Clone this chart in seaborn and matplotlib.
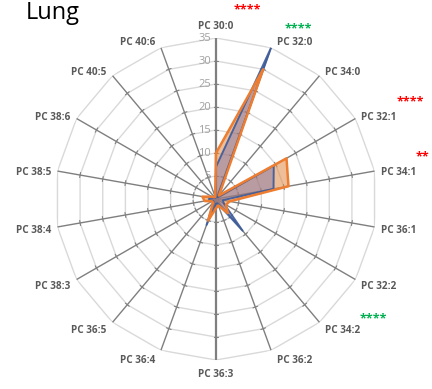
import numpy as np
import pandas as pd
import matplotlib
matplotlib.use("Agg")
import matplotlib.pyplot as plt
import seaborn as sns

categories = ["PC 30:0", "PC 32:0", "PC 34:0", "PC 32:1", "PC 34:1", "PC 36:1",
              "PC 32:2", "PC 34:2", "PC 36:2", "PC 36:3", "PC 36:4", "PC 36:5",
              "PC 38:3", "PC 38:4", "PC 38:5", "PC 38:6", "PC 40:5", "PC 40:6"]
orange_vals = [10, 30, 1, 17.7, 16, 3, 2.5, 4, 1.5, 2, 5, 1, 1, 2.5, 3, 1, 0.5, 0.5]
blue_vals = [7, 35, 0.5, 14.5, 12.7, 1.5, 2, 9, 1, 1, 6, 0.8, 0.8, 1.5, 1.5, 0.5, 0.3, 0.3]
radial_ticks = [5, 10, 15, 20, 25, 30, 35]
rmax = 35

sns.set_theme(style="white")
plt.rcParams['font.family'] = ['Open Sans', 'DejaVu Sans']

fig = plt.figure(figsize=(4.32, 3.89), dpi=100)
ax = fig.add_axes([0.1273, 0.0745, 0.7454, 0.8278], projection='polar')
ax.set_theta_zero_location('N')
ax.set_theta_direction(-1)
ax.set_ylim(0, rmax)
ax.grid(False)
ax.spines['polar'].set_visible(False)
ax.patch.set_alpha(0)

n = len(categories)
angles = np.arange(n) * 2 * np.pi / n
closed_angles = np.append(angles, angles[0])

# polygon grid
for r in radial_ticks:
    ax.plot(closed_angles, [r] * (n + 1), color='#D9D9D9', lw=1.0, zorder=1)
# spokes
for i, a in enumerate(angles):
    col = '#7F7F7F'
    lw = 1.6 if i in (0, n // 2) else 1.0
    ax.plot([a, a], [0, rmax], color=col, lw=lw, zorder=2)
    for r in radial_ticks[:-1]:
        d = 2.5 / (r * 4.6)
        ax.plot([a - d, a + d], [r, r], color=col, lw=0.8, zorder=2)

ov = np.append(orange_vals, orange_vals[0])
bv = np.append(blue_vals, blue_vals[0])
df = pd.DataFrame({
    'angle': np.concatenate([closed_angles, closed_angles]),
    'value': np.concatenate([ov, bv]),
    'series': ['orange'] * (n + 1) + ['blue'] * (n + 1),
})

ax.fill(closed_angles, ov, color='#E08A45', alpha=0.55, lw=0, zorder=3)
ax.fill(closed_angles, bv, color='#6A6AAE', alpha=0.4, lw=0, zorder=4)
sns.lineplot(data=df[df.series == 'blue'], x='angle', y='value', sort=False,
             estimator=None, color='#3A5A9A', lw=1.4, alpha=0.9, ax=ax, zorder=5)
sns.lineplot(data=df[df.series == 'orange'], x='angle', y='value', sort=False,
             estimator=None, color='#ED7D31', lw=1.8, ax=ax, zorder=6)
ax.set_xlabel('')
ax.set_ylabel('')
ax.set_xticks([])
ax.set_yticks([])
ax.set_ylim(0, rmax)

# radial value labels
for r in radial_ticks:
    ax.annotate(str(r), xy=(0, r), xytext=(-5, 0), textcoords='offset pixels',
                ha='right', va='center', fontsize=8, color='#A0A0A0', zorder=7)

# category labels
for a, lab in zip(angles, categories):
    s, c = np.sin(a), np.cos(a)
    if abs(s) < 0.1:
        ha = 'center'
        dx, dy = 0, 13 * np.sign(c) - 1
    else:
        ha = 'left' if s > 0 else 'right'
        dx = 6 * np.sign(s)
        dy = 8 * c - 2.5
    ax.annotate(lab, xy=(a, rmax), xytext=(dx, dy), textcoords='offset pixels',
                ha=ha, va='center', fontsize=7.2, fontweight='bold', color='#595959',
                annotation_clip=False)

fig.text(26 / 432, 1 - 19 / 389, "Lung", fontsize=17, color='black',
         ha='left', va='baseline')

stars = [("****", 247, 10, '#FF0000'), ("****", 298, 29, '#00B050'),
         ("****", 410, 102, '#FF0000'), ("**", 422, 157, '#FF0000'),
         ("****", 373, 319, '#00B050')]
for txt, x, y, col in stars:
    fig.text(x / 432, 1 - y / 389, txt, fontsize=9, color=col,
             ha='center', va='center', fontweight='bold')

fig.savefig('out.png', dpi=100)
